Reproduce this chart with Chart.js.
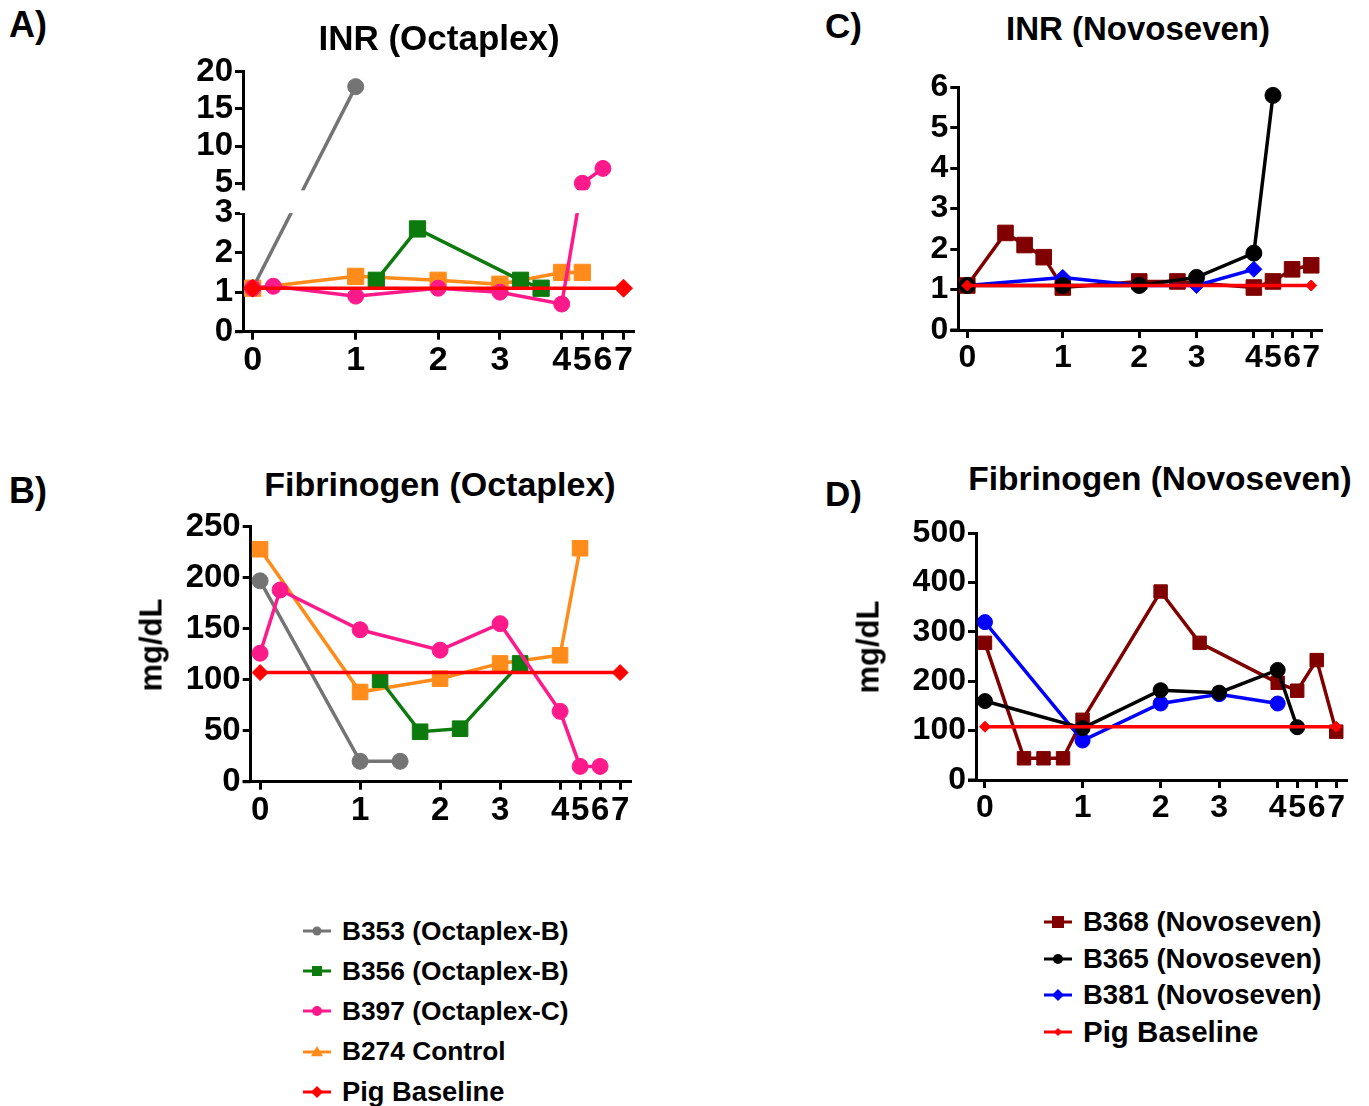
<!DOCTYPE html>
<html>
<head>
<meta charset="utf-8">
<script src="https://cdn.jsdelivr.net/npm/chart.js@4.4.0/dist/chart.umd.min.js"></script>
<style>
  body { margin: 0; background: #fff; width: 1369px; height: 1106px; position: relative; overflow: hidden;
         font-family: 'Liberation Sans', Arial, sans-serif; font-weight: bold; color: #000; }
  canvas { position: absolute; }
  .txt { position: absolute; white-space: nowrap; line-height: 1; }
  .legrow { position: absolute; display: flex; align-items: center; white-space: nowrap; }
  .legrow svg { margin-right: 10px; }
</style>
</head>
<body>
<canvas id="chartA" width="490" height="345" style="left:160px;top:50px"></canvas>
<canvas id="chartB" width="490" height="345" style="left:160px;top:505px"></canvas>
<canvas id="chartC" width="470" height="330" style="left:870px;top:65px"></canvas>
<canvas id="chartD" width="490" height="330" style="left:870px;top:510px"></canvas>
<div id="labels"></div>
<script>
const FONT = "'Liberation Sans', Arial, sans-serif"

// x axis: Prism-style uneven axis, tick positions in axis units
const xTickPos = [0, 5, 9, 12, 15, 16, 17, 18]
const xTickLabels = ['0', '1', '2', '3', '4', '5', '6', '7']

// A) INR (Octaplex) - broken y axis 0-3 / 5-20
const yTicksA = [0, 1, 2, 3, 5, 10, 15, 20]
const inrOctaB353X = [0, 5]
const inrOctaB353Y = [1.1, 18]
const inrOctaB356X = [6, 8, 13, 14]
const inrOctaB356Y = [1.3, 2.6, 1.3, 1.1]
const inrOctaB397X = [0, 1, 5, 9, 12, 15, 16, 17]
const inrOctaB397Y = [1.1, 1.15, 0.9, 1.1, 1.0, 0.7, 5, 7]
const inrOctaB274X = [0, 5, 9, 12, 15, 16]
const inrOctaB274Y = [1.1, 1.4, 1.3, 1.2, 1.5, 1.5]
const inrOctaBaseX = [0, 18]
const inrOctaBaseY = [1.1, 1.1]

// B) Fibrinogen (Octaplex)
const yTicksB = [0, 50, 100, 150, 200, 250]
const fibOctaB353X = [0, 5, 7]
const fibOctaB353Y = [197, 20, 20]
const fibOctaB356X = [6, 8, 10, 13]
const fibOctaB356Y = [100, 49, 52, 116]
const fibOctaB397X = [0, 1, 5, 9, 12, 15, 16, 17]
const fibOctaB397Y = [126, 188, 149, 129, 155, 69, 15, 15]
const fibOctaB274X = [0, 5, 9, 12, 15, 16]
const fibOctaB274Y = [228, 88, 101, 116, 124, 229]
const fibOctaBaseX = [0, 18]
const fibOctaBaseY = [107, 107]

// C) INR (Novoseven)
const yTicksC = [0, 1, 2, 3, 4, 5, 6]
const inrNovoB368X = [0, 2, 3, 4, 5, 9, 11, 15, 16, 17, 18]
const inrNovoB368Y = [1.1, 2.4, 2.1, 1.8, 1.05, 1.2, 1.2, 1.05, 1.2, 1.5, 1.6]
const inrNovoB365X = [0, 5, 9, 12, 15, 16]
const inrNovoB365Y = [1.1, 1.1, 1.1, 1.3, 1.9, 5.8]
const inrNovoB381X = [0, 5, 9, 12, 15]
const inrNovoB381Y = [1.1, 1.3, 1.1, 1.1, 1.5]
const inrNovoBaseX = [0, 18]
const inrNovoBaseY = [1.1, 1.1]

// D) Fibrinogen (Novoseven)
const yTicksD = [0, 100, 200, 300, 400, 500]
const fibNovoB368X = [0, 2, 3, 4, 5, 9, 11, 15, 16, 17, 18]
const fibNovoB368Y = [278, 44, 44, 44, 122, 382, 278, 197, 181, 243, 98]
const fibNovoB365X = [0, 5, 9, 12, 15, 16]
const fibNovoB365Y = [160, 105, 182, 177, 223, 107]
const fibNovoB381X = [0, 5, 9, 12, 15]
const fibNovoB381Y = [320, 80, 155, 174, 155]
const fibNovoBaseX = [0, 18]
const fibNovoBaseY = [108, 108]

const GRAY = '#747474', GREEN = '#0c7a0c', PINK = '#ff1a8c', ORANGE = '#ff8c1a'
const RED = '#ff0000', MAROON = '#800000', BLACK = '#000000', BLUE = '#0000ff'

// broken axis for panel A: 0-3 kept, 5-20 squeezed above a gap
const brk = (v) => v <= 3 ? v : 3.755 + (v - 5) * 0.188

const pts = (xs, ys, f = (v) => v) => xs.map((x, i) => ({ x: x, y: f(ys[i]) }))

const ds = (label, xs, ys, color, style, r, f) => ({
    label: label,
    data: pts(xs, ys, f),
    borderColor: color,
    backgroundColor: color,
    pointBackgroundColor: color,
    pointBorderColor: color,
    pointBorderWidth: 1,
    pointStyle: style,
    pointRadius: r,
    borderWidth: 3.5,
    tension: 0,
    clip: false
})

const xScale = (min, max, size, height) => ({
    type: 'linear', min: min, max: max,
    afterBuildTicks: (s) => { s.ticks = xTickPos.map((v) => ({ value: v })) },
    afterFit: (s) => { s.height = height },
    ticks: { autoSkip: false, maxRotation: 0, padding: 1, color: '#000',
             font: { family: FONT, weight: 'bold', size: size },
             callback: (v, i) => xTickLabels[i] },
    grid: { drawOnChartArea: false, drawTicks: true, tickLength: 8, color: '#000', lineWidth: 3 },
    border: { display: true, color: '#000', width: 3 }
})

const yScale = (max, ticks, size, width, f = (v) => v) => ({
    type: 'linear', min: 0, max: max,
    afterBuildTicks: (s) => { s.ticks = ticks.map((v) => ({ value: f(v) })) },
    afterFit: (s) => { s.width = width },
    ticks: { autoSkip: false, padding: 2, color: '#000',
             font: { family: FONT, weight: 'bold', size: size },
             callback: (v, i) => String(ticks[i]) },
    grid: { drawOnChartArea: false, drawTicks: true, tickLength: 8, color: '#000', lineWidth: 3 },
    border: { display: true, color: '#000', width: 3 }
})

// white band over the y-axis break (panel A)
const breakGap = {
    id: 'breakGap',
    afterDatasetsDraw(chart) {
        const { ctx, chartArea, scales } = chart
        const top = scales.y.getPixelForValue(brk(5) - 0.18)
        const bottom = scales.y.getPixelForValue(3)
        ctx.save()
        ctx.fillStyle = '#fff'
        ctx.fillRect(chartArea.left - 3, top, chartArea.right - chartArea.left + 6, bottom - top)
        ctx.restore()
    }
}

// Prism draws the x axis line a little past the y axis
const axisStub = {
    id: 'axisStub',
    afterDraw(chart) {
        const { ctx, chartArea } = chart
        ctx.save()
        ctx.strokeStyle = '#000'
        ctx.lineWidth = 3
        ctx.beginPath()
        ctx.moveTo(chartArea.left - 8, chartArea.bottom)
        ctx.lineTo(chartArea.left, chartArea.bottom)
        ctx.stroke()
        ctx.restore()
    }
}

const makeChart = (id, datasets, scales, pad, plugins = []) => new Chart(document.getElementById(id), {
    type: 'line',
    data: { datasets: datasets },
    options: {
        responsive: false, animation: false,
        layout: { padding: pad },
        plugins: { legend: { display: false }, tooltip: { enabled: false } },
        scales: scales
    },
    plugins: [axisStub].concat(plugins)
})

makeChart('chartA', [
    ds('Pig Baseline', inrOctaBaseX, inrOctaBaseY, RED, 'rectRot', 9, brk),
    ds('B397 (Octaplex-C)', inrOctaB397X, inrOctaB397Y, PINK, 'circle', 8, brk),
    ds('B356 (Octaplex-B)', inrOctaB356X, inrOctaB356Y, GREEN, 'rect', 11.5, brk),
    ds('B353 (Octaplex-B)', inrOctaB353X, inrOctaB353Y, GRAY, 'circle', 8, brk),
    ds('B274 Control', inrOctaB274X, inrOctaB274Y, ORANGE, 'rect', 11.5, brk)
], {
    x: xScale(-0.47, 18.46, 34, 63.3),
    y: yScale(brk(20), yTicksA, 33, 83, brk)
}, { left: 0, right: 17, top: 20.7, bottom: 0 }, [breakGap])

makeChart('chartB', [
    ds('Pig Baseline', fibOctaBaseX, fibOctaBaseY, RED, 'rectRot', 8),
    ds('B397 (Octaplex-C)', fibOctaB397X, fibOctaB397Y, PINK, 'circle', 8),
    ds('B356 (Octaplex-B)', fibOctaB356X, fibOctaB356Y, GREEN, 'rect', 11),
    ds('B353 (Octaplex-B)', fibOctaB353X, fibOctaB353Y, GRAY, 'circle', 8),
    ds('B274 Control', fibOctaB274X, fibOctaB274Y, ORANGE, 'rect', 11)
], {
    x: xScale(-0.47, 18.53, 33, 68.3),
    y: yScale(250, yTicksB, 33, 90.7)
}, { left: 0, right: 19.3, top: 21.7, bottom: 0 })

makeChart('chartC', [
    ds('Pig Baseline', inrNovoBaseX, inrNovoBaseY, RED, 'rectRot', 5.5),
    ds('B365 (Novoseven)', inrNovoB365X, inrNovoB365Y, BLACK, 'circle', 8),
    ds('B381 (Novoseven)', inrNovoB381X, inrNovoB381Y, BLUE, 'rectRot', 8),
    ds('B368 (Novoseven)', inrNovoB368X, inrNovoB368Y, MAROON, 'rect', 11)
], {
    x: xScale(-0.47, 18.55, 32, 65),
    y: yScale(6, yTicksC, 32, 88.3)
}, { left: 0, right: 18.3, top: 22.3, bottom: 0 })

makeChart('chartD', [
    ds('Pig Baseline', fibNovoBaseX, fibNovoBaseY, RED, 'rectRot', 5.5),
    ds('B365 (Novoseven)', fibNovoB365X, fibNovoB365Y, BLACK, 'circle', 7.5),
    ds('B381 (Novoseven)', fibNovoB381X, fibNovoB381Y, BLUE, 'circle', 7.5),
    ds('B368 (Novoseven)', fibNovoB368X, fibNovoB368Y, MAROON, 'rect', 9.5)
], {
    x: xScale(-0.46, 18.5, 32, 60),
    y: yScale(500, yTicksD, 32, 106)
}, { left: 0, right: 14, top: 23.3, bottom: 0 })

// texts: titles, panel letters, axis titles
const holder = document.getElementById('labels')
const addText = (text, x, cy, size, center, rotate) => {
    const d = document.createElement('div')
    d.className = 'txt'
    d.textContent = text
    d.style.fontSize = size + 'px'
    d.style.left = x + 'px'
    if (rotate) {
        d.style.top = cy + 'px'
        d.style.transform = 'translate(-50%, -50%) rotate(-90deg)'
    } else {
        d.style.top = (cy - 0.49 * size) + 'px'
        if (center) d.style.transform = 'translateX(-50%)'
    }
    holder.appendChild(d)
}
addText('A)', 9, 25, 36, false)
addText('INR (Octaplex)', 439, 37, 35, true)
addText('C)', 825, 25, 35, false)
addText('INR (Novoseven)', 1138, 28, 33, true)
addText('B)', 9, 491, 36, false)
addText('Fibrinogen (Octaplex)', 440, 484, 34, true)
addText('D)', 825, 493, 35, false)
addText('Fibrinogen (Novoseven)', 1160, 478, 33.5, true)
addText('mg/dL', 151, 645, 31, false, true)
addText('mg/dL', 868, 647, 31, false, true)

// legends
const legendLeft = [
    ['B353 (Octaplex-B)', GRAY, 'circle', 4.5],
    ['B356 (Octaplex-B)', GREEN, 'rect', 5],
    ['B397 (Octaplex-C)', PINK, 'circle', 5],
    ['B274 Control', ORANGE, 'triangle', 6],
    ['Pig Baseline', RED, 'rectRot', 6]
]
const legendRight = [
    ['B368 (Novoseven)', MAROON, 'rect', 6],
    ['B365 (Novoseven)', BLACK, 'circle', 5],
    ['B381 (Novoseven)', BLUE, 'rectRot', 6],
    ['Pig Baseline', RED, 'rectRot', 4]
]
const markerSvg = (color, shape, r) => {
    let m = ''
    if (shape === 'circle') m = `<circle cx="15" cy="10" r="${r}" fill="${color}"/>`
    else if (shape === 'rect') m = `<rect x="${15 - r}" y="${10 - r}" width="${2 * r}" height="${2 * r}" fill="${color}"/>`
    else if (shape === 'rectRot') m = `<polygon points="15,${10 - r} ${15 + r},10 15,${10 + r} ${15 - r},10" fill="${color}"/>`
    else m = `<polygon points="15,${10 - r} ${15 + r},${10 + r * 0.7} ${15 - r},${10 + r * 0.7}" fill="${color}"/>`
    return `<svg width="30" height="20"><line x1="1" y1="10" x2="29" y2="10" stroke="${color}" stroke-width="3"/>${m}</svg>`
}
const addLegend = (items, left, firstY, step, sizes) => {
    items.forEach((it, i) => {
        const row = document.createElement('div')
        row.className = 'legrow'
        row.style.left = left + 'px'
        row.style.top = (firstY + i * step - 20) + 'px'
        row.style.height = '40px'
        row.style.fontSize = sizes[i] + 'px'
        row.innerHTML = markerSvg(it[1], it[2], it[3]) + '<span>' + it[0] + '</span>'
        holder.appendChild(row)
    })
}
addLegend(legendLeft, 302, 931, 40.2, [26.3, 26.3, 26.3, 26.3, 27.3])
addLegend(legendRight, 1043, 922, 36.5, [27.5, 27.5, 27.5, 29.5])
</script>
</body>
</html>
